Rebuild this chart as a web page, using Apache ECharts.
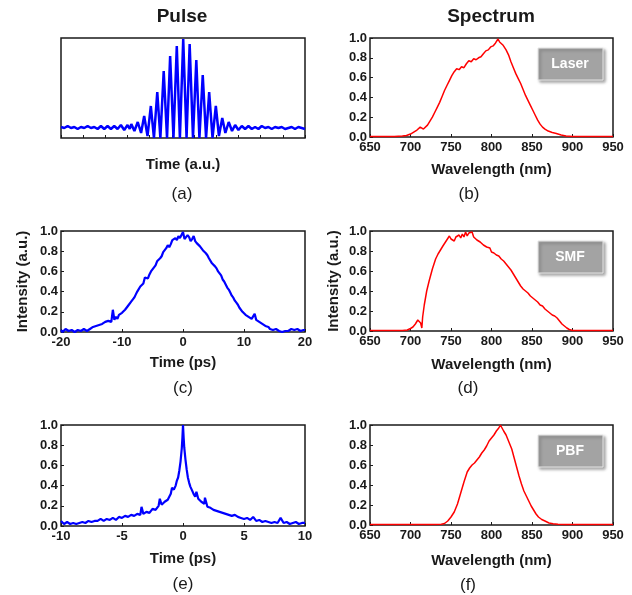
<!DOCTYPE html>
<html>
<head>
<meta charset="utf-8">
<script src="https://cdn.jsdelivr.net/npm/echarts@6/dist/echarts.min.js"></script>
<style>
  html, body { margin: 0; padding: 0; background: #fff; }
  #chart { width: 632px; height: 595px; }
</style>
</head>
<body>
<div id="chart"></div>
<script>
// 脉冲 / 光谱 六宫格图
var FONT = '"Liberation Sans", Arial, sans-serif'

// (a) 干涉自相关, 横轴单位 a.u.
var pulseFringe = [
  [0.0, 0.11], [0.15, 0.10], [0.3, 0.12], [0.45, 0.10], [0.6, 0.11], [0.75, 0.09],
  [0.9, 0.11], [1.05, 0.10], [1.2, 0.12], [1.35, 0.10], [1.5, 0.11], [1.65, 0.09],
  [1.8, 0.12], [1.95, 0.09], [2.1, 0.12], [2.25, 0.09], [2.4, 0.12], [2.55, 0.09],
  [2.7, 0.13], [2.85, 0.08], [3.0, 0.13], [3.1, 0.09],
  [3.17, 0.14], [3.31, 0.07], [3.46, 0.16], [3.61, 0.05], [3.75, 0.22], [3.9, 0.02],
  [4.05, 0.32], [4.19, 0.0], [4.34, 0.46], [4.48, 0.0], [4.63, 0.67], [4.78, 0.0],
  [4.92, 0.82], [5.07, 0.0], [5.22, 0.92], [5.36, 0.0], [5.51, 0.99], [5.66, 0.0],
  [5.8, 0.94], [5.95, 0.0], [6.1, 0.78], [6.24, 0.0], [6.39, 0.63], [6.54, 0.0],
  [6.68, 0.46], [6.83, 0.0], [6.98, 0.32], [7.12, 0.02], [7.27, 0.20], [7.41, 0.05],
  [7.56, 0.16], [7.71, 0.07], [7.85, 0.13], [8.0, 0.08],
  [8.15, 0.12], [8.3, 0.09], [8.45, 0.12], [8.6, 0.09], [8.75, 0.11], [8.9, 0.09],
  [9.05, 0.12], [9.2, 0.10], [9.35, 0.11], [9.5, 0.09], [9.65, 0.11], [9.8, 0.10],
  [9.95, 0.11], [10.1, 0.09], [10.25, 0.10], [10.4, 0.11], [10.55, 0.09], [10.7, 0.11],
  [10.85, 0.10], [11.0, 0.09]
]

// (b) Laser 光谱 (nm, 归一化强度)
var laserSpectrum = [
  [650, 0.005], [660, 0.005], [670, 0.006], [680, 0.006], [690, 0.01], [695, 0.015],
  [700, 0.03], [704, 0.05], [708, 0.07], [712, 0.10], [714, 0.09], [716, 0.08],
  [718, 0.09], [721, 0.12], [724, 0.16], [727, 0.20], [730, 0.25], [733, 0.30],
  [736, 0.35], [739, 0.41], [742, 0.47], [745, 0.52], [748, 0.57], [751, 0.62],
  [754, 0.66], [757, 0.69], [760, 0.68], [763, 0.71], [766, 0.70], [769, 0.74],
  [772, 0.77], [775, 0.76], [778, 0.79], [781, 0.78], [784, 0.80], [787, 0.81],
  [790, 0.84], [793, 0.87], [796, 0.88], [799, 0.91], [802, 0.92], [805, 0.95],
  [808, 0.99], [810, 0.96], [812, 0.97], [814, 0.93], [816, 0.94], [818, 0.88],
  [821, 0.83], [824, 0.76], [827, 0.70], [830, 0.64], [833, 0.59], [836, 0.54],
  [839, 0.48], [842, 0.42], [845, 0.37], [848, 0.32], [851, 0.27], [854, 0.22],
  [857, 0.17], [860, 0.13], [863, 0.10], [866, 0.08], [870, 0.06], [875, 0.045],
  [880, 0.035], [886, 0.02], [892, 0.01], [900, 0.006], [910, 0.005], [920, 0.005],
  [930, 0.006], [940, 0.005], [950, 0.005]
]

// (c) SMF 后脉冲 (ps)
var smfPulse = [
  [-20, 0.02], [-19.75, 0.00], [-19.5, 0.01], [-19.25, 0.03], [-19, 0.03], [-18.75, 0.01],
  [-18.5, 0.01], [-18.25, 0.02], [-18, 0.02], [-17.75, 0.00], [-17.5, 0.01], [-17.25, 0.02],
  [-17, 0.02], [-16.75, 0.01], [-16.5, 0.01], [-16.25, 0.03], [-16, 0.02], [-15.75, 0.01],
  [-15.5, 0.02], [-15.25, 0.03], [-15, 0.03], [-14.75, 0.05], [-14.5, 0.04], [-14.25, 0.06],
  [-14, 0.05], [-13.75, 0.07], [-13.5, 0.06], [-13.25, 0.08], [-13, 0.07], [-12.75, 0.10],
  [-12.5, 0.09], [-12.25, 0.11], [-12, 0.12], [-11.75, 0.10], [-11.5, 0.22], [-11.25, 0.12],
  [-11, 0.15], [-10.75, 0.13], [-10.5, 0.17], [-10.25, 0.16], [-10, 0.19], [-9.75, 0.18],
  [-9.5, 0.22], [-9.25, 0.21], [-9, 0.26], [-8.75, 0.25], [-8.5, 0.30], [-8.25, 0.31],
  [-8, 0.34], [-7.75, 0.37], [-7.5, 0.40], [-7.25, 0.41], [-7, 0.45], [-6.75, 0.44],
  [-6.5, 0.48], [-6.25, 0.54], [-6, 0.55], [-5.75, 0.53], [-5.5, 0.57], [-5.25, 0.60],
  [-5, 0.62], [-4.75, 0.64], [-4.5, 0.66], [-4.25, 0.70], [-4, 0.70], [-3.75, 0.73],
  [-3.5, 0.75], [-3.25, 0.79], [-3, 0.80], [-2.75, 0.83], [-2.5, 0.86], [-2.25, 0.84],
  [-2, 0.87], [-1.75, 0.91], [-1.5, 0.90], [-1.25, 0.93], [-1, 0.91], [-0.75, 0.95],
  [-0.5, 0.93], [-0.25, 0.96], [0, 0.99], [0.25, 0.92], [0.5, 0.93], [0.75, 0.96],
  [1, 0.94], [1.25, 0.90], [1.5, 0.92], [1.75, 0.95], [2, 0.90], [2.25, 0.88],
  [2.5, 0.87], [2.75, 0.85], [3, 0.84], [3.25, 0.81], [3.5, 0.80], [3.75, 0.78],
  [4, 0.76], [4.25, 0.73], [4.5, 0.72], [4.75, 0.68], [5, 0.67], [5.25, 0.65],
  [5.5, 0.63], [5.75, 0.60], [6, 0.58], [6.25, 0.56], [6.5, 0.52], [6.75, 0.50],
  [7, 0.47], [7.25, 0.44], [7.5, 0.42], [7.75, 0.39], [8, 0.36], [8.25, 0.34],
  [8.5, 0.31], [8.75, 0.29], [9, 0.27], [9.25, 0.24], [9.5, 0.23], [9.75, 0.20],
  [10, 0.19], [10.25, 0.17], [10.5, 0.16], [10.75, 0.15], [11, 0.14], [11.25, 0.13],
  [11.5, 0.13], [11.75, 0.18], [12, 0.12], [12.25, 0.11], [12.5, 0.10], [12.75, 0.09],
  [13, 0.08], [13.25, 0.07], [13.5, 0.06], [13.75, 0.05], [14, 0.05], [14.25, 0.03],
  [14.5, 0.04], [14.75, 0.02], [15, 0.02], [15.25, 0.03], [15.5, 0.02], [15.75, 0.01],
  [16, 0.01], [16.25, 0.00], [16.5, 0.01], [16.75, 0.01], [17, 0.02], [17.25, 0.01],
  [17.5, 0.01], [17.75, 0.03], [18, 0.03], [18.25, 0.02], [18.5, 0.02], [18.75, 0.03],
  [19, 0.03], [19.25, 0.01], [19.5, 0.01], [19.75, 0.02], [20, 0.02]
]

// (d) SMF 光谱
var smfSpectrum = [
  [650, 0.005], [660, 0.006], [670, 0.005], [680, 0.006], [690, 0.006], [696, 0.01],
  [700, 0.025], [703, 0.04], [706, 0.07], [709, 0.11], [711, 0.12], [712.5, 0.08],
  [714, 0.03], [715, 0.14], [717, 0.26], [720, 0.40], [723, 0.50], [727, 0.62],
  [731, 0.72], [734, 0.77], [737, 0.81], [740, 0.85], [742, 0.87], [744, 0.90],
  [746, 0.91], [748, 0.95], [750, 0.92], [752, 0.93], [754, 0.90], [756, 0.94],
  [758, 0.92], [760, 0.96], [762, 0.93], [764, 0.97], [766, 0.94], [768, 0.99],
  [770, 0.95], [772, 0.98], [774, 0.96], [776, 0.99], [778, 0.94], [780, 0.95],
  [782, 0.91], [784, 0.92], [786, 0.89], [788, 0.90], [790, 0.86], [792, 0.87],
  [794, 0.84], [796, 0.82], [798, 0.83], [800, 0.79], [803, 0.78], [806, 0.76],
  [809, 0.75], [812, 0.72], [815, 0.70], [818, 0.67], [821, 0.64], [824, 0.61],
  [827, 0.57], [830, 0.53], [833, 0.49], [836, 0.45], [839, 0.42], [842, 0.40],
  [845, 0.38], [848, 0.35], [851, 0.33], [854, 0.31], [857, 0.29], [860, 0.26],
  [863, 0.25], [866, 0.22], [869, 0.20], [872, 0.18], [875, 0.16], [878, 0.15],
  [881, 0.13], [884, 0.10], [887, 0.07], [890, 0.05], [893, 0.03], [896, 0.015],
  [900, 0.005], [910, 0.005], [920, 0.006], [930, 0.005], [940, 0.006], [950, 0.005]
]

// (e) PBF 后脉冲 (ps)
var pbfPulse = [
  [-10, 0.05], [-9.75, 0.02], [-9.5, 0.04], [-9.25, 0.02], [-9, 0.03], [-8.75, 0.02],
  [-8.5, 0.03], [-8.25, 0.04], [-8, 0.03], [-7.75, 0.05], [-7.5, 0.04], [-7.25, 0.05],
  [-7, 0.05], [-6.75, 0.07], [-6.5, 0.05], [-6.25, 0.07], [-6, 0.06], [-5.75, 0.08],
  [-5.5, 0.06], [-5.25, 0.09], [-5, 0.08], [-4.75, 0.10], [-4.5, 0.09], [-4.25, 0.11],
  [-4, 0.10], [-3.75, 0.12], [-3.5, 0.11], [-3.4, 0.19], [-3.25, 0.12], [-3, 0.14],
  [-2.75, 0.13], [-2.5, 0.17], [-2.25, 0.16], [-2, 0.20], [-1.9, 0.27], [-1.75, 0.21],
  [-1.5, 0.24], [-1.25, 0.26], [-1, 0.32], [-0.9, 0.38], [-0.75, 0.36], [-0.6, 0.40],
  [-0.5, 0.45], [-0.4, 0.48], [-0.3, 0.55], [-0.2, 0.64], [-0.1, 0.77], [-0.05, 0.87],
  [0, 1.0], [0.05, 0.88], [0.1, 0.78], [0.2, 0.66], [0.3, 0.56], [0.4, 0.48],
  [0.5, 0.43], [0.6, 0.39], [0.75, 0.35], [0.9, 0.31], [1, 0.29], [1.1, 0.34],
  [1.25, 0.27], [1.5, 0.24], [1.75, 0.22], [1.8, 0.28], [2, 0.19], [2.25, 0.18],
  [2.5, 0.16], [2.75, 0.15], [3, 0.14], [3.25, 0.13], [3.5, 0.12], [3.75, 0.11],
  [4, 0.10], [4.25, 0.11], [4.5, 0.09], [4.75, 0.08], [5, 0.07], [5.25, 0.08],
  [5.5, 0.06], [5.75, 0.09], [6, 0.05], [6.25, 0.06], [6.5, 0.04], [6.75, 0.05],
  [7, 0.04], [7.25, 0.03], [7.5, 0.04], [7.75, 0.03], [8, 0.08], [8.25, 0.03],
  [8.5, 0.04], [8.75, 0.02], [9, 0.03], [9.25, 0.04], [9.5, 0.02], [9.75, 0.03],
  [10, 0.03]
]

// (f) PBF 光谱
var pbfSpectrum = [
  [650, 0.005], [670, 0.005], [690, 0.006], [710, 0.005], [725, 0.006], [738, 0.008],
  [742, 0.015], [746, 0.04], [750, 0.08], [754, 0.13], [758, 0.21], [762, 0.32],
  [766, 0.43], [770, 0.53], [773, 0.57], [776, 0.60], [779, 0.62], [782, 0.65],
  [785, 0.68], [788, 0.72], [791, 0.75], [794, 0.79], [797, 0.84], [800, 0.87],
  [803, 0.90], [806, 0.94], [809, 0.97], [811, 1.0], [813, 0.97], [815, 0.94],
  [816, 0.96], [818, 0.90], [820, 0.86], [822, 0.82], [825, 0.76], [828, 0.67],
  [831, 0.58], [834, 0.49], [837, 0.41], [840, 0.34], [843, 0.29], [846, 0.24],
  [849, 0.19], [852, 0.15], [855, 0.11], [858, 0.08], [862, 0.055], [866, 0.04],
  [871, 0.02], [876, 0.012], [882, 0.008], [890, 0.005], [900, 0.006], [910, 0.005],
  [925, 0.005], [940, 0.006], [950, 0.005]
]

var legendNames = ['Laser', 'SMF', 'PBF']
var panelTags = ['(a)', '(b)', '(c)', '(d)', '(e)', '(f)']

var grids = [
  { left: 61, top: 38, width: 244, height: 100 },
  { left: 370, top: 38, width: 243, height: 99 },
  { left: 61, top: 231, width: 244, height: 101 },
  { left: 370, top: 231, width: 243, height: 100 },
  { left: 61, top: 425, width: 244, height: 101 },
  { left: 370, top: 425, width: 243, height: 100 }
]
grids.forEach(function (g) {
  g.show = true
  g.borderColor = '#1a1a1a'
  g.borderWidth = 1.5
  g.backgroundColor = 'transparent'
})

var labelStyle = { fontFamily: FONT, fontWeight: 'bold', fontSize: 13, color: '#1a1a1a' }
var nameStyle = { fontFamily: FONT, fontWeight: 'bold', fontSize: 15, color: '#1a1a1a' }

function xAx(idx, min, max, interval, name, gap, showLabel) {
  return {
    type: 'value', gridIndex: idx, min: min, max: max, interval: interval,
    name: name, nameLocation: 'middle', nameGap: gap, nameTextStyle: nameStyle,
    axisLine: { show: false, onZero: false },
    axisTick: { show: true, inside: true, length: 3, lineStyle: { color: '#1a1a1a' } },
    axisLabel: Object.assign({ show: showLabel, margin: 4 }, labelStyle),
    splitLine: { show: false }
  }
}
function yAx(idx, name, gap, showLabel) {
  return {
    type: 'value', gridIndex: idx, min: 0, max: 1, interval: 0.2,
    name: name, nameLocation: 'middle', nameGap: gap, nameTextStyle: nameStyle,
    axisLine: { show: false, onZero: false },
    axisTick: { show: showLabel, inside: true, length: 3, lineStyle: { color: '#1a1a1a' } },
    axisLabel: Object.assign({ show: showLabel, margin: 3,
      formatter: function (v) { return v.toFixed(1) } }, labelStyle),
    splitLine: { show: false }
  }
}

function line(idx, data, color, width) {
  return {
    type: 'line', xAxisIndex: idx, yAxisIndex: idx, data: data,
    showSymbol: false, silent: true, animation: false,
    lineStyle: { color: color, width: width }
  }
}

var graphics = [
  { type: 'text', x: 182, y: 17, style: { text: 'Pulse', font: 'bold 19px ' + FONT, fill: '#1a1a1a', align: 'center', verticalAlign: 'middle' } },
  { type: 'text', x: 491, y: 17, style: { text: 'Spectrum', font: 'bold 19px ' + FONT, fill: '#1a1a1a', align: 'center', verticalAlign: 'middle' } }
]
var tagPos = [[182, 194], [469, 194], [183, 388], [468, 388], [183, 584], [468, 585]]
panelTags.forEach(function (t, i) {
  graphics.push({ type: 'text', x: tagPos[i][0], y: tagPos[i][1],
    style: { text: t, font: '17px ' + FONT, fill: '#1a1a1a', align: 'center', verticalAlign: 'middle' } })
})
var boxTops = [48, 241, 435]
legendNames.forEach(function (n, i) {
  graphics.push({ type: 'rect', shape: { x: 538, y: boxTops[i], width: 65, height: 32 },
    style: { fill: '#a3a3a3', stroke: '#e6e6e6', lineWidth: 1,
      shadowBlur: 3, shadowOffsetX: 2, shadowOffsetY: 2, shadowColor: 'rgba(0,0,0,0.35)' } })
  graphics.push({ type: 'text', x: 570, y: boxTops[i] + 16,
    style: { text: n, font: 'bold 14px ' + FONT, fill: '#fff', align: 'center', verticalAlign: 'middle' } })
})

var option = {
  backgroundColor: '#fff',
  animation: false,
  grid: grids,
  xAxis: [
    xAx(0, 0, 11, 1, 'Time (a.u.)', 19, false),
    xAx(1, 650, 950, 50, 'Wavelength (nm)', 25, true),
    xAx(2, -20, 20, 10, 'Time (ps)', 23, true),
    xAx(3, 650, 950, 50, 'Wavelength (nm)', 26, true),
    xAx(4, -10, 10, 5, 'Time (ps)', 25, true),
    xAx(5, 650, 950, 50, 'Wavelength (nm)', 28, true)
  ],
  yAxis: [
    yAx(0, '', 10, false),
    yAx(1, '', 10, true),
    yAx(2, 'Intensity (a.u.)', 31, true),
    yAx(3, 'Intensity (a.u.)', 29, true),
    yAx(4, '', 10, true),
    yAx(5, '', 10, true)
  ],
  series: [
    line(0, pulseFringe, '#0000ff', 2.5),
    line(1, laserSpectrum, '#ff0000', 1.5),
    line(2, smfPulse, '#0000ff', 2.2),
    line(3, smfSpectrum, '#ff0000', 1.5),
    line(4, pbfPulse, '#0000ff', 2.2),
    line(5, pbfSpectrum, '#ff0000', 1.5)
  ],
  graphic: graphics
}

var myChart = echarts.init(document.getElementById('chart'))
myChart.setOption(option, true)
</script>
</body>
</html>
